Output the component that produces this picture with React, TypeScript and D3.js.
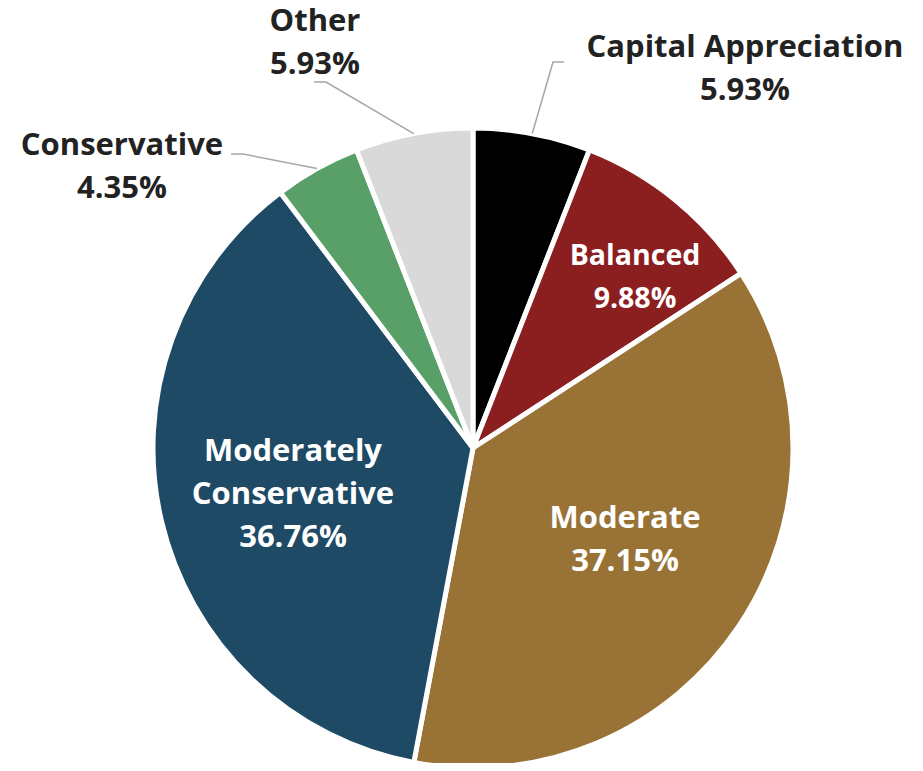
import React, { useEffect, useRef } from 'react';
import * as d3 from 'd3';

const categories = ['Capital Appreciation', 'Balanced', 'Moderate', 'Moderately Conservative', 'Conservative', 'Other'];
const shares = [5.93, 9.88, 37.15, 36.76, 4.35, 5.93];
const colors = ['#000000', '#8b1e1f', '#997236', '#1f4a66', '#58a067', '#d9d9d9'];

// label text lines and where they sit (relative to pie centre)
const labelLines = [
  ['Capital Appreciation', '5.93%'],
  ['Balanced', '9.88%'],
  ['Moderate', '37.15%'],
  ['Moderately', 'Conservative', '36.76%'],
  ['Conservative', '4.35%'],
  ['Other', '5.93%'],
];
const labelPos = [
  { x: 272, y: -380, size: 31, outside: true, color: '#222', elbow: [80, -386], end: [91, -386] },
  { x: 162, y: -171, size: 28.5, outside: false, color: '#fff' },
  { x: 152, y: 91, size: 31, outside: false, color: '#fff' },
  { x: -180, y: 45, size: 31, outside: false, color: '#fff' },
  { x: -351, y: -282, size: 31, outside: true, color: '#222', elbow: [-230, -294], end: [-242, -294] },
  { x: -158, y: -406, size: 31, outside: true, color: '#222', elbow: [-147, -366], end: [-159, -366] },
];

const W = 923;
const H = 771;

export default function App() {
  const svgRef = useRef<SVGSVGElement>(null);

  useEffect(() => {
    const svg = d3.select(svgRef.current);
    svg.selectAll('*').remove();

    const cx = 473;
    const cy = 448;
    const r = 320;

    const g = svg.append('g').attr('transform', `translate(${cx},${cy})`);

    const pie = d3.pie<number>().sort(null).value(d => d);
    const arcs = pie(shares);
    const arc = d3.arc<d3.PieArcDatum<number>>().innerRadius(0).outerRadius(r);
    const outer = d3.arc<d3.PieArcDatum<number>>().innerRadius(r).outerRadius(r);

    g.selectAll('path.slice')
      .data(arcs)
      .enter()
      .append('path')
      .attr('class', 'slice')
      .attr('d', arc)
      .attr('fill', (d, i) => colors[i])
      .attr('stroke', '#fff')
      .attr('stroke-width', 5)
      .attr('stroke-linejoin', 'round');

    // leader lines for the small slices
    arcs.forEach((a, i) => {
      const p = labelPos[i];
      if (!p.outside) return;
      const [sx, sy] = outer.centroid(a);
      g.append('polyline')
        .attr('points', `${sx},${sy} ${p.elbow![0]},${p.elbow![1]} ${p.end![0]},${p.end![1]}`)
        .attr('fill', 'none')
        .attr('stroke', '#a6a6a6')
        .attr('stroke-width', 1.5);
    });

    labelLines.forEach((lines, i) => {
      const p = labelPos[i];
      const lh = 43;
      const t = g.append('text')
        .attr('text-anchor', 'middle')
        .attr('font-family', '"Open Sans", sans-serif')
        .attr('font-weight', 700)
        .attr('font-size', p.size)
        .attr('fill', p.color);
      lines.forEach((s, k) => {
        t.append('tspan')
          .attr('x', p.x)
          .attr('y', p.y + (k - (lines.length - 1) / 2) * lh)
          .attr('dy', '0.35em')
          .text(s);
      });
    });

    void categories;
  }, []);

  return <svg ref={svgRef} width={W} height={H} style={{ display: 'block', margin: -8 }} />;
}
